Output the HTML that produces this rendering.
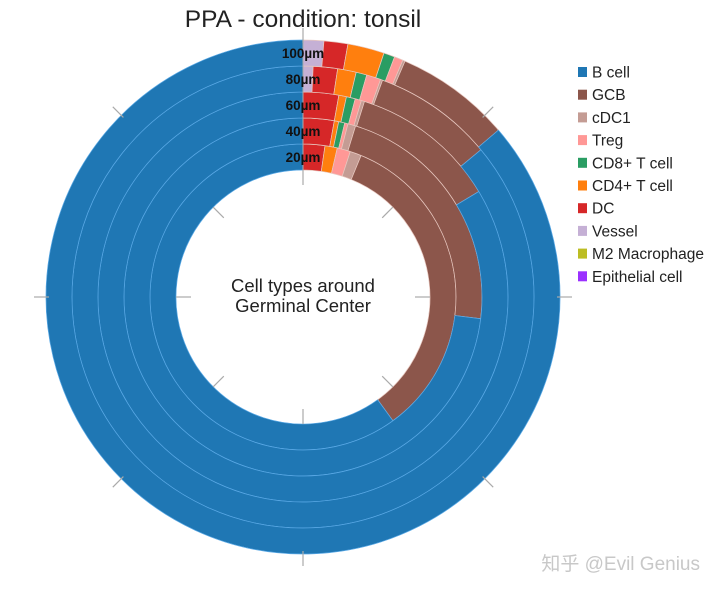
<!DOCTYPE html>
<html><head><meta charset="utf-8"><style>
body{margin:0;background:#fff;width:720px;height:592px;overflow:hidden}
svg{font-family:"Liberation Sans","Noto Sans CJK SC",sans-serif}
</style></head><body>
<svg id="chart" width="720" height="592">
<text x="303" y="27" font-size="24.5" text-anchor="middle" fill="#222">PPA - condition: tonsil</text>
<g id="rings"></g>
<g id="ticks"></g>
<g id="labels"></g>
<text x="303" y="292" font-size="18.5" text-anchor="middle" fill="#222"><tspan x="303">Cell types around</tspan><tspan x="303" dy="20">Germinal Center</tspan></text>
<g id="legend"></g>
<text x="700" y="570" font-size="19" text-anchor="end" fill="#c8c8c8">知乎 @Evil Genius</text>
</svg>
<script>
const categories=["Vessel","DC","CD4+ T cell","CD8+ T cell","Treg","cDC1","GCB","B cell"];
const ringLabels=["20µm","40µm","60µm","80µm","100µm"];
const ring20=[0,2.3,1.3,0,1.4,1.2,33.8,60];
const ring40=[0,2.8,0.4,0.55,0.3,0.7,22.2,73.1];
const ring60=[0,2.8,0.6,0.7,0.5,0.25,11.55,83.6];
const ring80=[0.7,1.7,1.3,0.75,1.0,0.15,8.4,86];
const ring100=[1.3,1.5,2.3,0.7,0.55,0.15,7.25,86.25];
const legendNames=["B cell","GCB","cDC1","Treg","CD8+ T cell","CD4+ T cell","DC","Vessel","M2 Macrophage","Epithelial cell"];
const colorMap={"B cell":"#1f77b4","GCB":"#8c564b","cDC1":"#c49c94","Treg":"#ff9896","CD8+ T cell":"#2a9d63","CD4+ T cell":"#ff7f0e","DC":"#d62728","Vessel":"#c5b0d5","M2 Macrophage":"#bcbd22","Epithelial cell":"#9b30ff"};
const NS="http://www.w3.org/2000/svg";
const cx=303,cy=297,r0=127,rw=26;
function pt(r,a){const t=a*Math.PI/180;return [cx+r*Math.sin(t),cy-r*Math.cos(t)];}
function arc(ri,ro,a0,a1){const L=(a1-a0)>180?1:0;const p1=pt(ro,a0),p2=pt(ro,a1),p3=pt(ri,a1),p4=pt(ri,a0);
return `M${p1}A${ro},${ro} 0 ${L} 1 ${p2}L${p3}A${ri},${ri} 0 ${L} 0 ${p4}Z`;}
const rings=[ring20,ring40,ring60,ring80,ring100];
const gR=document.getElementById('rings');
rings.forEach((vals,i)=>{
  const tot=vals.reduce((a,b)=>a+b,0);let acc=0;
  const ri=r0+i*rw,ro=ri+rw;
  vals.forEach((v,j)=>{
    if(v<=0)return;
    const a0=acc/tot*360;acc+=v;const a1=Math.min(acc/tot*360,359.99);
    const p=document.createElementNS(NS,'path');
    p.setAttribute('d',arc(ri,ro,a0,a1));
    p.setAttribute('fill',colorMap[categories[j]]);
    p.setAttribute('stroke',colorMap[categories[j]]==="#1f77b4"?"#5aa9e6":"#e8c8c0");
    p.setAttribute('stroke-width','0.7');
    
    
    gR.appendChild(p);
  });
});
const gT=document.getElementById('ticks');
for(let k=0;k<8;k++){
  const a=k*45;
  [[r0-15,r0],[r0+5*rw-3,r0+5*rw+12]].forEach(([a1,a2],m)=>{
    const p=pt(a1,a),q=pt(a2,a);
    const l=document.createElementNS(NS,'line');
    l.setAttribute('x1',p[0]);l.setAttribute('y1',p[1]);l.setAttribute('x2',q[0]);l.setAttribute('y2',q[1]);
    l.setAttribute('stroke','#aaa');l.setAttribute('stroke-width','1.2');
    
    
    gT.appendChild(l);
  });
}
const vl=document.createElementNS(NS,'line');
vl.setAttribute('x1',cx);vl.setAttribute('y1',cy-r0-5*rw);vl.setAttribute('x2',cx);vl.setAttribute('y2',cy-r0+12);
vl.setAttribute('stroke','#aaa');vl.setAttribute('stroke-width','1');


gT.appendChild(vl);
const gL=document.getElementById('labels');
ringLabels.forEach((t,i)=>{
  const e=document.createElementNS(NS,'text');
  e.setAttribute('x',cx);e.setAttribute('y',cy-(r0+i*rw+rw/2)+5);
  e.setAttribute('text-anchor','middle');e.setAttribute('font-size','13.5');e.setAttribute('font-weight','bold');e.setAttribute('fill','#111');
  e.textContent=t;
  
  
  gL.appendChild(e);
});
const gG=document.getElementById('legend');
legendNames.forEach((n,i)=>{
  const y=72+i*22.7;
  const g=document.createElementNS(NS,'g');
  
  
  const r=document.createElementNS(NS,'rect');
  r.setAttribute('x',578);r.setAttribute('y',y-5);r.setAttribute('width',9);r.setAttribute('height',10);r.setAttribute('fill',colorMap[n]);
  const t=document.createElementNS(NS,'text');
  t.setAttribute('x',592);t.setAttribute('y',y+5.5);t.setAttribute('font-size','15.5');t.setAttribute('fill','#222');t.textContent=n;
  g.appendChild(r);g.appendChild(t);gG.appendChild(g);
});
</script>
</body></html>
